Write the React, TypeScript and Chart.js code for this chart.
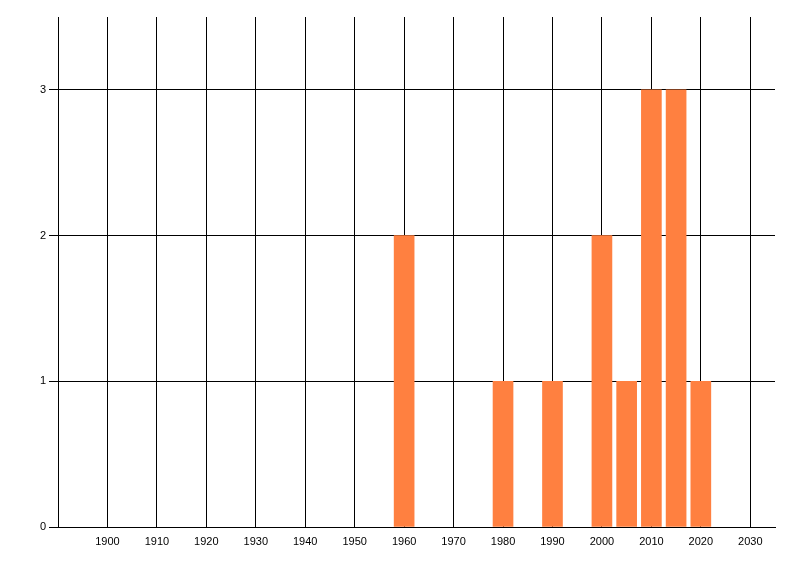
import React, { useRef, useEffect } from 'react';
import { Chart, registerables } from 'chart.js';

Chart.register(...registerables);

const years = [1960, 1980, 1990, 2000, 2005, 2010, 2015, 2020];
const counts = [2, 1, 1, 2, 1, 3, 3, 1];
const xTicks = [1890, 1900, 1910, 1920, 1930, 1940, 1950, 1960, 1970, 1980, 1990, 2000, 2010, 2020, 2030];
const yTicks = [0, 1, 2, 3];

function App() {
  const canvasRef = useRef<HTMLCanvasElement>(null);
  const chartRef = useRef<Chart | null>(null);

  useEffect(() => {
    if (!canvasRef.current) return;
    const ctx = canvasRef.current.getContext('2d');
    if (chartRef.current) chartRef.current.destroy();

    const font = { family: 'Liberation Sans', size: 11 };

    chartRef.current = new Chart(ctx, {
      type: 'bar',
      data: {
        datasets: [{
          data: years.map((y, i) => ({ x: y, y: counts[i] })),
          backgroundColor: 'rgb(255, 128, 64)',
          borderWidth: 0,
          barThickness: 20,
        }],
      },
      options: {
        animation: false,
        responsive: false,
        maintainAspectRatio: false,
        layout: { padding: { top: 17, right: 25, left: 0, bottom: 0 } },
        plugins: { legend: { display: false }, tooltip: { enabled: false } },
        scales: {
          x: {
            type: 'linear',
            min: 1890,
            max: 2035,
            offset: false,
            afterBuildTicks: (scale: any) => {
              scale.ticks = xTicks.map(v => ({ value: v }));
            },
            afterFit: (scale: any) => { scale.height = 49; },
            grid: { color: '#000', lineWidth: 1, drawTicks: false, offset: false },
            border: { color: '#000', width: 1 },
            ticks: {
              color: '#000',
              font,
              padding: 8,
              maxRotation: 0,
              autoSkip: false,
              callback: (v: any) => (v === 1890 ? '' : String(v)),
            },
          },
          y: {
            min: 0,
            max: 3.5,
            afterBuildTicks: (scale: any) => {
              scale.ticks = yTicks.map(v => ({ value: v }));
            },
            afterFit: (scale: any) => { scale.width = 58; },
            grid: { color: '#000', lineWidth: 1, tickLength: 9 },
            border: { color: '#000', width: 1 },
            ticks: { color: '#000', font, padding: 3 },
          },
        },
      },
    });

    return () => {
      if (chartRef.current) {
        chartRef.current.destroy();
        chartRef.current = null;
      }
    };
  }, []);

  return (
    <div style={{ position: 'fixed', left: 0, top: 0, width: 800, height: 576, background: '#fff' }}>
      <canvas ref={canvasRef} width={800} height={576} />
    </div>
  );
}

export default App;
